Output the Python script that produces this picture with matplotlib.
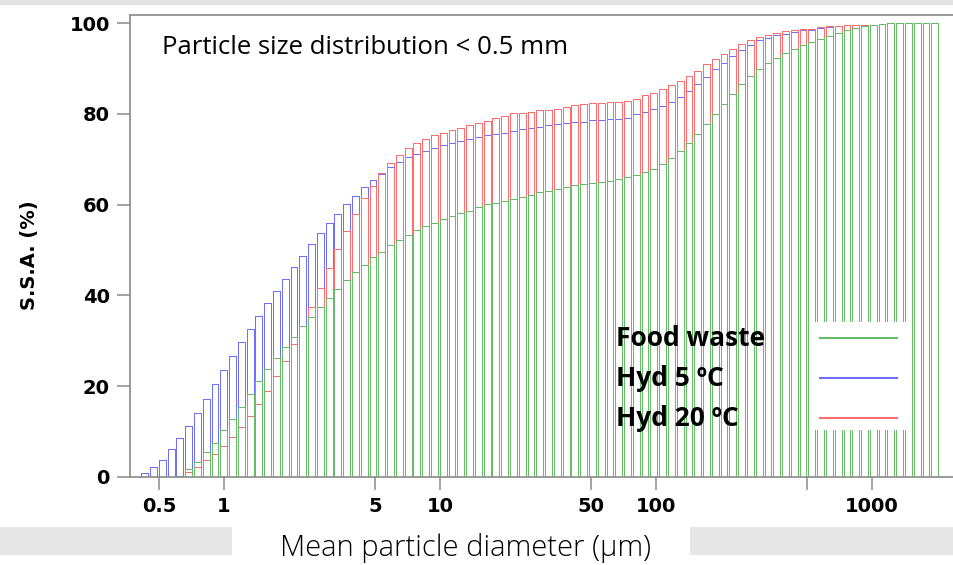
import matplotlib.pyplot as plt
import numpy as np
from matplotlib.patches import Rectangle
from matplotlib.lines import Line2D

# Cumulative specific surface area (%) per size class
food_waste = [
    0, 0, 0, 0, 0.3, 1.7, 3.3, 5.4, 7.5, 10.3,
    12.8, 15.5, 18.3, 21.1, 23.8, 26.3, 28.6, 30.9, 33.3, 35.3,
    37.5, 39.5, 41.5, 43.4, 45.2, 46.8, 48.4, 49.6, 51.1, 52.2,
    53.4, 54.4, 55.3, 56.0, 56.8, 57.5, 58.2, 58.7, 59.5, 60.1,
    60.4, 60.9, 61.3, 61.7, 62.2, 62.7, 63.1, 63.5, 63.9, 64.3,
    64.6, 64.8, 65.0, 65.3, 65.7, 66.0, 66.5, 67.1, 67.9, 69.0,
    70.3, 71.8, 73.5, 75.5, 77.7, 79.9, 82.2, 84.4, 86.5, 88.3,
    90.0, 91.3, 92.4, 93.5, 94.2, 95.2, 95.9, 96.6, 97.2, 97.9,
    98.6, 99.0, 99.3, 99.5, 99.8, 100, 100, 100, 100, 100,
    100,
]
hyd_5 = [
    0.8, 2.1, 3.7, 6.1, 8.7, 11.3, 14.2, 17.2, 20.4, 23.6,
    26.7, 29.7, 32.6, 35.5, 38.4, 41.0, 43.7, 46.3, 48.8, 51.4,
    53.7, 55.9, 57.9, 60.1, 62.0, 63.8, 65.4, 66.8, 68.4, 69.5,
    70.6, 71.1, 71.9, 72.5, 73.1, 73.6, 74.1, 74.4, 75.0, 75.3,
    75.6, 75.9, 76.3, 76.7, 76.9, 77.2, 77.5, 77.8, 78.0, 78.2,
    78.3, 78.6, 78.6, 78.8, 78.9, 79.2, 80.0, 80.5, 81.1, 81.8,
    82.7, 83.8, 85.0, 86.5, 88.2, 89.8, 91.3, 92.8, 94.1, 95.2,
    96.3, 96.8, 97.4, 97.7, 98.1, 98.4, 98.5, 99.0, 99.2, 99.3,
    99.5, 99.6, 99.7, 99.7, 99.8, 100, 100, 100, 100, 100,
    100,
]
hyd_20 = [
    0, 0, 0, 0, 0.3, 1.1, 2.3, 3.7, 5.1, 6.9,
    8.9, 11.0, 13.4, 16.1, 19.0, 22.2, 25.6, 29.4, 33.3, 37.5,
    41.6, 46.0, 50.3, 54.2, 57.9, 61.4, 64.1, 66.9, 69.1, 71.0,
    72.4, 73.7, 74.5, 75.3, 75.9, 76.4, 76.9, 77.5, 78.1, 78.5,
    79.1, 79.5, 80.1, 80.3, 80.5, 80.8, 80.9, 81.1, 81.6, 81.9,
    82.1, 82.3, 82.4, 82.6, 82.7, 82.9, 83.3, 84.1, 84.6, 85.4,
    86.4, 87.2, 88.3, 89.5, 90.9, 92.1, 93.3, 94.4, 95.4, 96.3,
    96.9, 97.5, 97.9, 98.2, 98.5, 98.7, 98.8, 99.2, 99.3, 99.4,
    99.6, 99.6, 99.7, 99.7, 99.8, 100, 100, 100, 100, 100,
    100,
]

x_ticks = [0.5, 1, 5, 10, 50, 100, 500, 1000]
x_tick_labels = ["0.5", "1", "5", "10", "50", "100", "", "1000"]
y_ticks = [0, 20, 40, 60, 80, 100]

# Size class edges (log spaced channels)
edges = np.logspace(np.log10(0.41), np.log10(2046), len(food_waste) + 1)

green = "#66bb66"
blue = "#6e6eff"
red = "#ff6e6e"

fig = plt.figure(figsize=(9.54, 5.65), dpi=100)

# Grey strips around the plot area
fig.add_artist(Rectangle((0, 1 - 5 / 565), 1, 5 / 565, transform=fig.transFigure,
                         facecolor="#e2e2e2", edgecolor="none"))
fig.add_artist(Rectangle((0, 10 / 565), 232 / 954, 28 / 565, transform=fig.transFigure,
                         facecolor="#e6e6e6", edgecolor="none"))
fig.add_artist(Rectangle((690 / 954, 10 / 565), 264 / 954, 28 / 565, transform=fig.transFigure,
                         facecolor="#e6e6e6", edgecolor="none"))

ax = fig.add_axes([130 / 954, 88 / 565, 824 / 954, 462 / 565])


def plot_bars(values, colour):
    values = np.asarray(values, dtype=float)
    log_edges = np.log10(edges)
    gap = 0.22 * np.diff(log_edges)
    left = 10 ** (log_edges[:-1] + gap / 2)
    right = 10 ** (log_edges[1:] - gap / 2)
    keep = values > 0
    ax.bar(left[keep], values[keep], width=(right - left)[keep], align="edge",
           fill=False, edgecolor=colour, linewidth=0.6, antialiased=False)


plot_bars(hyd_5, blue)
plot_bars(hyd_20, red)
plot_bars(food_waste, green)

ax.set_xscale("log")
ax.set_xlim(0.367, 2398)
ax.set_ylim(0, 101.8)

ax.set_xticks(x_ticks)
ax.set_xticklabels(x_tick_labels)
ax.xaxis.set_minor_locator(plt.NullLocator())
ax.set_yticks(y_ticks)

for spine in ["left", "bottom", "top"]:
    ax.spines[spine].set_color("#8a8a8a")
    ax.spines[spine].set_linewidth(1.2)
ax.spines["right"].set_visible(False)

ax.tick_params(axis="both", direction="out", length=9.5, width=1.1, color="#8a8a8a",
               labelsize=14, pad=5)
for label in ax.get_xticklabels() + ax.get_yticklabels():
    label.set_fontweight("bold")
    label.set_family("DejaVu Sans")

fig.text(30 / 954, 1 - 255 / 565, "S.S.A. (%)", rotation=90, ha="center", va="center",
         fontsize=14, fontweight="bold", family="DejaVu Sans")
fig.text(466 / 954, 1 - 548 / 565, "Mean particle diameter (µm)", ha="center", va="center",
         fontsize=21, fontweight="light", family="Open Sans")

ax.text(162 / 954, 1 - 48 / 565, "Particle size distribution < 0.5 mm", transform=fig.transFigure,
        ha="left", va="center", fontsize=18.5, family="Open Sans")

# Legend: labels on the left, line samples in a white box
fig.add_artist(Rectangle((813 / 954, 1 - 430 / 565), 99 / 954, 108 / 565, transform=fig.transFigure,
                         facecolor="white", edgecolor="none", zorder=5))
for name, colour, y in [("Food waste", green, 338), ("Hyd 5 ºC", blue, 378), ("Hyd 20 ºC", red, 418)]:
    fig.add_artist(Line2D([820 / 954, 897 / 954], [1 - y / 565, 1 - y / 565], transform=fig.transFigure,
                          color=colour, linewidth=1.5, zorder=6))
    fig.text(616 / 954, 1 - y / 565, name, ha="left", va="center", fontsize=19,
             fontweight="bold", family="Open Sans", zorder=6)

fig.savefig("out.png", dpi=100)
